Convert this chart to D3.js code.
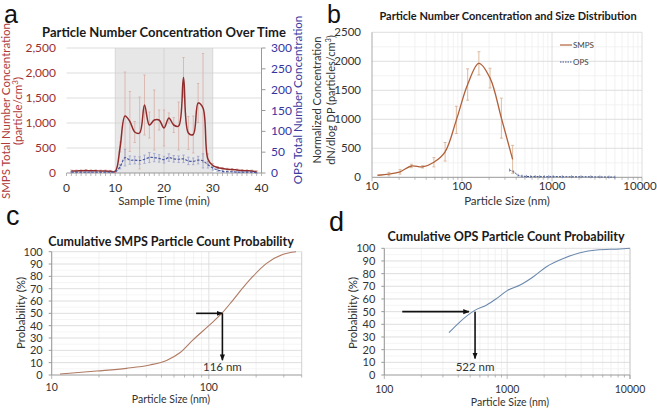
<!DOCTYPE html>
<html><head><meta charset="utf-8">
<script src="https://cdn.jsdelivr.net/npm/d3@7"></script>
<style>
body{margin:0;background:#fff}
svg{display:block}
text{font-family:Lato,'Open Sans',sans-serif}
</style>
</head><body>
<svg id="chart" width="657" height="410"></svg>
<script>
// ---------- DATA ----------
// Panel a: total number concentration over time
const sampleTime = [1,2,3,4,5,6,7,8,9,10,11,12,13,14,15,16,17,18,19,20,21,22,23,24,25,26,27,28,29,30,31,32,33,34,35,36,37,38,39];
const smpsTotal = [40,40,45,50,45,45,40,40,35,30,520,1140,1030,820,800,1360,960,1060,1060,900,1100,960,940,1910,800,770,1400,1300,280,150,110,90,75,70,60,50,45,40,25];
const smpsTotalErr = [20,20,20,20,20,20,20,20,20,20,100,880,600,210,720,600,260,600,200,360,100,150,480,400,330,370,390,1090,100,40,20,20,20,20,20,20,20,20,20];
const opsTotal = [2,2,2,2,2,2,2,2,2,3,15,37,31,31,30,33,37,37,35,32,37,34,33,34,29,28,31,29,20,12,7,4,3,3,2,2,2,2,1];
const opsTotalErr = [1,1,1,1,1,1,1,1,1,1,5,20,10,9,9,10,12,10,9,8,9,8,8,9,9,8,9,17,8,5,3,2,1,1,1,1,1,1,1];
const shadeRange = [10, 30];
const timeTicks = [0,10,20,30,40];
const smpsTotalTicks = [0,500,1000,1500,2000,2500];
const opsTotalTicks = [0,50,100,150,200,250,300];

// Panel b: size distribution
const smpsSize = [11.5,15.4,20.5,27.4,36.5,48.7,64.9,86.6,115.5,154,205,274,365];
const smpsConc = [35,55,95,195,180,260,440,990,1600,1965,1710,1020,310];
const smpsConcErr = [0,30,40,30,20,80,160,235,270,200,170,345,240];
const opsSize = [337,375,420,465,520,580,650,730,820,920,1030,1300,1650,2100,2700,3400,4300,5000];
const opsConc = [125,95,35,20,15,12,12,11,10,10,12,10,9,9,8,6,4,3];
const sizeTicksB = [10,100,1000,10000];
const concTicks = [0,500,1000,1500,2000,2500];

// Panel c: cumulative SMPS
const cumSmpsSize = [11.3,19.3,29.9,42.1,53.8,65.4,79.3,100,122,142.5,165,190,233,295,359];
const cumSmpsProb = [0.8,3.2,5.4,8.1,11.8,18,28.5,40,50.5,60.8,70.8,79.7,90.5,97.8,100];
const smpsMedianLabel = "116 nm";
const smpsArrow = {from:83, to:122, y:50, down:12, labelY:3.5};

// Panel d: cumulative OPS
const cumOpsSize = [336,413,541,682,823,1000,1274,1634,2090,2870,3920,5340,8300,10000];
const cumOpsProb = [33.4,42,50.8,55.3,60.5,66.6,71,77.6,85.5,92,96.5,98.7,99.5,100];
const opsMedianLabel = "522 nm";
const opsArrow = {from:140, to:489, x:548, y:50, down:13, labelY:3};
const probTicks = [0,10,20,30,40,50,60,70,80,90,100];

// ---------- DRAW ----------
const svg = d3.select('#chart');
const defs = svg.append('defs');
defs.append('marker').attr('id','ah').attr('viewBox','0 0 10 10').attr('refX',9).attr('refY',5)
  .attr('markerWidth',4).attr('markerHeight',4).attr('orient','auto')
  .append('path').attr('d','M0,1 L10,5 L0,9 z').attr('fill','#111');

function minorLog(lo, hi){
  const out=[];
  for(let d=Math.floor(Math.log10(lo)); d<=Math.ceil(Math.log10(hi)); d++){
    for(let k=1;k<=9;k++){const v=k*Math.pow(10,d); if(v>=lo*0.999 && v<=hi*1.001) out.push(v);}
  }
  return out;
}
function letter(x,y,t,s){svg.append('text').attr('x',x).attr('y',y).text(t)
  .style('font-family',"'Liberation Sans',Arial,sans-serif").attr('font-size',s||27).attr('fill','#111');}
function title(x,y,t,size){svg.append('text').attr('x',x).attr('y',y).attr('text-anchor','middle')
  .attr('font-weight','bold').attr('font-size',size).attr('fill','#1a1a1a').text(t);}

// ===== Panel a =====
{
  const x = d3.scaleLinear().domain([0,40]).range([66.5,261.5]);
  const y = d3.scaleLinear().domain([0,2500]).range([173,48]);
  const y2 = d3.scaleLinear().domain([0,300]).range([173,48]);
  const g = svg.append('g');
  g.append('rect').attr('x',x(shadeRange[0])).attr('y',y(2500)).attr('width',x(shadeRange[1])-x(shadeRange[0]))
    .attr('height',y(0)-y(2500)).attr('fill','#e7e7e7');
  g.selectAll('.hg').data(smpsTotalTicks.slice(1)).join('line').attr('x1',x(0)).attr('x2',x(40))
    .attr('y1',d=>y(d)).attr('y2',d=>y(d)).attr('stroke','#d4d4d4').attr('stroke-width',0.8);
  g.selectAll('.vg').data(timeTicks.slice(1,4)).join('line').attr('x1',d=>x(d)).attr('x2',d=>x(d))
    .attr('y1',y(0)).attr('y2',y(2500)).attr('stroke','#d0d0d0').attr('stroke-width',0.8);
  g.append('line').attr('x1',x(0)).attr('x2',x(40)).attr('y1',y(0)).attr('y2',y(0)).attr('stroke','#999');
  g.selectAll('.mt').data(d3.range(0,41)).join('line').attr('x1',d=>x(d)).attr('x2',d=>x(d))
    .attr('y1',y(0)).attr('y2',y(0)+3).attr('stroke','#999').attr('stroke-width',0.7);
  g.append('line').attr('x1',x(40)).attr('x2',x(40)).attr('y1',y(0)).attr('y2',y(2500)).attr('stroke','#999');
  g.selectAll('.rt').data(opsTotalTicks).join('line').attr('x1',x(40)).attr('x2',x(40)+4)
    .attr('y1',d=>y2(d)).attr('y2',d=>y2(d)).attr('stroke','#999');
  const eb = (sel, xs, vs, es, ys, col, cap) => {
    sel.append('g').selectAll('line').data(xs).join('line')
      .attr('x1',(d)=>x(d)).attr('x2',d=>x(d))
      .attr('y1',(d,i)=>ys(vs[i]+es[i])).attr('y2',(d,i)=>ys(Math.max(0,vs[i]-es[i])))
      .attr('stroke',col).attr('stroke-width',0.8);
    sel.append('g').selectAll('line').data(xs.flatMap((d,i)=>[[d,vs[i]+es[i]],[d,Math.max(0,vs[i]-es[i])]])).join('line')
      .attr('x1',d=>x(d[0])-cap).attr('x2',d=>x(d[0])+cap).attr('y1',d=>ys(d[1])).attr('y2',d=>ys(d[1]))
      .attr('stroke',col).attr('stroke-width',0.8);
  };
  eb(g, sampleTime, smpsTotal, smpsTotalErr, y, '#d8aea6', 1.2);
  eb(g, sampleTime, opsTotal, opsTotalErr, y2, '#9aa0c8', 1.2);
  const line1 = d3.line().x((d,i)=>x(sampleTime[i])).y(d=>y(d)).curve(d3.curveCatmullRom.alpha(0.5));
  g.append('path').attr('d',line1(smpsTotal)).attr('fill','none').attr('stroke','#922b2b').attr('stroke-width',1.5);
  const line2 = d3.line().x((d,i)=>x(sampleTime[i])).y(d=>y2(d)).curve(d3.curveCatmullRom.alpha(0.5));
  g.append('path').attr('d',line2(opsTotal)).attr('fill','none').attr('stroke','#4a5aa0').attr('stroke-width',1.2)
    .attr('stroke-dasharray','2.5,1.5');
  g.selectAll('.yl').data(smpsTotalTicks).join('text').attr('x',56).attr('y',d=>y(d)+4).attr('text-anchor','end')
    .attr('font-size',12).attr('fill','#9b2f2f').text(d3.format(','));
  g.selectAll('.yr').data(opsTotalTicks).join('text').attr('x',271).attr('y',d=>y2(d)+4)
    .attr('font-size',12).attr('fill','#3535a0').text(d=>d);
  g.selectAll('.xl').data(timeTicks).join('text').attr('x',d=>x(d)).attr('y',192).attr('text-anchor','middle')
    .attr('font-size',12).attr('fill','#333').text(d=>d);
  g.append('text').attr('x',164).attr('y',205).attr('text-anchor','middle').attr('font-size',11.5).attr('fill','#333').text('Sample Time (min)');
  const yl = g.append('text').attr('transform','translate(10,111) rotate(-90)').attr('text-anchor','middle')
    .attr('font-size',11.5).attr('fill','#b03a3a');
  yl.append('tspan').attr('x',0).attr('dy',0).text('SMPS Total Number Concentration');
  const t2 = yl.append('tspan').attr('x',0).attr('dy',12).text('(particle/cm');
  t2.append('tspan').attr('font-size',8).attr('dy',-4).text('3');
  t2.append('tspan').attr('dy',4).text(')');
  g.append('text').attr('transform','translate(302,100) rotate(-90)').attr('text-anchor','middle')
    .attr('font-size',11.5).attr('fill','#3a3aa0').text('OPS Total Number Concentration');
  title(164,37,'Particle Number Concentration Over Time',13);
  letter(4,23,'a',25);
}

// ===== Panel b =====
{
  const x = d3.scaleLog().domain([10,10000]).range([372,642]);
  const y = d3.scaleLinear().domain([0,2500]).range([177.3,32.3]);
  const g = svg.append('g');
  const minors = minorLog(10,10000).filter(v=>!sizeTicksB.includes(v));
  g.selectAll('.mg').data(minors).join('line').attr('x1',d=>x(d)).attr('x2',d=>x(d)).attr('y1',y(0)).attr('y2',y(2500))
    .attr('stroke','#ececec').attr('stroke-width',0.7);
  g.selectAll('.mg2').data(d3.range(250,2500,500)).join('line').attr('x1',x(10)).attr('x2',x(10000)).attr('y1',d=>y(d)).attr('y2',d=>y(d))
    .attr('stroke','#ededed').attr('stroke-width',0.7);
  g.selectAll('.hg').data(concTicks.slice(1)).join('line').attr('x1',x(10)).attr('x2',x(10000)).attr('y1',d=>y(d)).attr('y2',d=>y(d))
    .attr('stroke','#d6d6d6').attr('stroke-width',0.8);
  g.selectAll('.vg').data(sizeTicksB.slice(1)).join('line').attr('x1',d=>x(d)).attr('x2',d=>x(d)).attr('y1',y(0)).attr('y2',y(2500))
    .attr('stroke','#d6d6d6').attr('stroke-width',0.8);
  g.append('line').attr('x1',x(10)).attr('x2',x(10)).attr('y1',y(0)).attr('y2',y(2500)).attr('stroke','#aaa');
  g.append('line').attr('x1',x(10)).attr('x2',x(10000)).attr('y1',y(0)).attr('y2',y(0)).attr('stroke','#999');
  g.selectAll('.mt').data(minorLog(10,10000)).join('line').attr('x1',d=>x(d)).attr('x2',d=>x(d))
    .attr('y1',y(0)).attr('y2',d=>y(0)+(sizeTicksB.includes(d)?4:2.5)).attr('stroke','#999').attr('stroke-width',0.7);
  const idx = smpsSize.map((d,i)=>i).filter(i=>smpsConcErr[i]>0);
  g.selectAll('.eb').data(idx).join('line').attr('x1',i=>x(smpsSize[i])).attr('x2',i=>x(smpsSize[i]))
    .attr('y1',i=>y(smpsConc[i]+smpsConcErr[i])).attr('y2',i=>y(Math.max(0,smpsConc[i]-smpsConcErr[i])))
    .attr('stroke','#e2c2a9').attr('stroke-width',1.1);
  g.selectAll('.ec').data(idx.flatMap(i=>[[i,1],[i,-1]])).join('line').attr('x1',d=>x(smpsSize[d[0]])-1.5).attr('x2',d=>x(smpsSize[d[0]])+1.5)
    .attr('y1',d=>y(Math.max(0,smpsConc[d[0]]+d[1]*smpsConcErr[d[0]]))).attr('y2',d=>y(Math.max(0,smpsConc[d[0]]+d[1]*smpsConcErr[d[0]])))
    .attr('stroke','#d8b49a').attr('stroke-width',0.9);
  const ln = d3.line().x(d=>x(d[0])).y(d=>y(d[1])).curve(d3.curveCatmullRom.alpha(0.5));
  g.append('path').attr('d',ln(smpsSize.map((d,i)=>[d,smpsConc[i]]))).attr('fill','none').attr('stroke','#b0613a').attr('stroke-width',1.3);
  g.append('path').attr('d',ln(opsSize.map((d,i)=>[d,opsConc[i]]))).attr('fill','none').attr('stroke','#3d4d85').attr('stroke-width',1)
    .attr('stroke-dasharray','2,1.2');
  g.selectAll('.ot').data(opsSize).join('line').attr('x1',d=>x(d)).attr('x2',d=>x(d))
    .attr('y1',(d,i)=>y(opsConc[i])-1.5).attr('y2',(d,i)=>y(opsConc[i])+1.5).attr('stroke','#6070a0').attr('stroke-width',0.7);
  g.selectAll('.yl').data(concTicks).join('text').attr('x',361).attr('y',d=>y(d)+4).attr('text-anchor','end')
    .attr('font-size',11.5).attr('fill','#333').text(d=>d);
  g.selectAll('.xl').data(sizeTicksB).join('text').attr('x',d=>Math.min(x(d),640)).attr('y',190).attr('text-anchor','middle')
    .attr('font-size',11.5).attr('fill','#333').text(d=>d);
  g.append('text').attr('x',507).attr('y',205).attr('text-anchor','middle').attr('font-size',11.5).attr('fill','#333').text('Particle Size (nm)');
  const yl = g.append('text').attr('transform','translate(321,100) rotate(-90)').attr('text-anchor','middle')
    .attr('font-size',11).attr('fill','#333');
  yl.append('tspan').attr('x',0).attr('dy',0).text('Normalized Concentration');
  const t2 = yl.append('tspan').attr('x',0).attr('dy',14).text('dN/dlog DP  (particles/cm');
  t2.append('tspan').attr('font-size',7.5).attr('dy',-4).text('3');
  t2.append('tspan').attr('dy',4).text(')');
  const lg = g.append('g');
  lg.append('line').attr('x1',560).attr('x2',572).attr('y1',45).attr('y2',45).attr('stroke','#b0613a').attr('stroke-width',1.2);
  lg.append('text').attr('x',573).attr('y',48).attr('font-size',8).attr('fill','#444').text('SMPS');
  lg.append('line').attr('x1',560).attr('x2',572).attr('y1',62).attr('y2',62).attr('stroke','#3d4d85').attr('stroke-width',1).attr('stroke-dasharray','1.5,1');
  lg.append('text').attr('x',573).attr('y',65).attr('font-size',8).attr('fill','#444').text('OPS');
  title(508,20,'Particle Number Concentration and Size Distribution',11);
  letter(327,23,'b',25);
}

// ===== cumulative panels =====
function cumPanel(opt){
  const x = d3.scaleLog().domain(opt.xdom).range(opt.xr);
  const y = d3.scaleLinear().domain([0,100]).range(opt.yr);
  const g = svg.append('g');
  const minors = minorLog(opt.xdom[0],opt.xdom[1]);
  g.selectAll('.mg').data(minors).join('line').attr('x1',d=>x(d)).attr('x2',d=>x(d)).attr('y1',y(0)).attr('y2',y(100))
    .attr('stroke',d=>opt.majors.includes(d)?'#d4d4d4':'#ececec').attr('stroke-width',0.7);
  g.selectAll('.mh').data(d3.range(5,100,10)).join('line').attr('x1',x.range()[0]).attr('x2',x.range()[1]).attr('y1',d=>y(d)).attr('y2',d=>y(d))
    .attr('stroke','#efefef').attr('stroke-width',0.6);
  g.selectAll('.hg').data(probTicks.slice(1)).join('line').attr('x1',x.range()[0]).attr('x2',x.range()[1]).attr('y1',d=>y(d)).attr('y2',d=>y(d))
    .attr('stroke','#d6d6d6').attr('stroke-width',0.8);
  g.append('line').attr('x1',x.range()[1]).attr('x2',x.range()[1]).attr('y1',y(0)).attr('y2',y(100)).attr('stroke','#d0d0d0');
  g.append('line').attr('x1',x.range()[0]).attr('x2',x.range()[0]).attr('y1',y(0)).attr('y2',y(100)).attr('stroke','#999');
  g.append('line').attr('x1',x.range()[0]).attr('x2',x.range()[1]).attr('y1',y(0)).attr('y2',y(0)).attr('stroke','#999');
  g.selectAll('.yt').data(probTicks).join('line').attr('x1',x.range()[0]-3).attr('x2',x.range()[0]).attr('y1',d=>y(d)).attr('y2',d=>y(d)).attr('stroke','#999');
  g.selectAll('.xt').data(minors.concat([opt.xdom[1]])).join('line').attr('x1',d=>x(d)).attr('x2',d=>x(d)).attr('y1',y(0))
    .attr('y2',d=>y(0)+(opt.majors.includes(d)?4:2.5)).attr('stroke','#999').attr('stroke-width',0.7);
  const ln = d3.line().x(d=>x(d[0])).y(d=>y(d[1])).curve(d3.curveMonotoneX);
  g.append('path').attr('d',ln(opt.sx.map((d,i)=>[d,opt.sy[i]]))).attr('fill','none').attr('stroke',opt.color).attr('stroke-width',1.1);
  g.selectAll('.yl').data(probTicks).join('text').attr('x',x.range()[0]-9).attr('y',d=>y(d)+4).attr('text-anchor','end')
    .attr('font-size',11).attr('fill','#333').text(d=>d);
  g.selectAll('.xl').data(opt.majors).join('text').attr('x',d=>x(d)).attr('y',opt.xlabY).attr('text-anchor','middle')
    .attr('font-size',10.5).attr('fill','#333').text(d=>d);
  g.append('text').attr('x',opt.axCx).attr('y',opt.axY).attr('text-anchor','middle').attr('font-size',10.5).attr('fill','#333').text('Particle Size (nm)');
  g.append('text').attr('transform',`translate(${opt.ylx},313) rotate(-90)`).attr('text-anchor','middle')
    .attr('font-size',11.5).attr('fill','#333').text(opt.ylab);
  const a = opt.arrow;
  const ax = a.x || a.to;
  g.append('line').attr('x1',x(a.from)).attr('x2',x(a.to)).attr('y1',y(a.y)).attr('y2',y(a.y))
    .attr('stroke','#111').attr('stroke-width',1.6).attr('marker-end','url(#ah)');
  g.append('line').attr('x1',x(ax)).attr('x2',x(ax)).attr('y1',y(a.y)).attr('y2',y(a.down))
    .attr('stroke','#111').attr('stroke-width',1.6).attr('marker-end','url(#ah)');
  g.append('text').attr('x',x(ax)).attr('y',y(a.labelY)).attr('text-anchor','middle').attr('font-size',11.5).attr('fill','#333').text(opt.mlabel);
  title(opt.tx,opt.ty,opt.title,12.5);
}
cumPanel({xdom:[10,390], xr:[51.7,301.7], yr:[375,251.7], majors:[10,100], sx:cumSmpsSize, sy:cumSmpsProb,
  color:'#b07a63', xlabY:391, axCx:171, axY:403, ylx:25, ylab:'Probability  (%)', arrow:smpsArrow, mlabel:smpsMedianLabel,
  title:'Cumulative SMPS Particle Count Probability', tx:171, ty:246});
cumPanel({xdom:[100,10000], xr:[384.3,630], yr:[375,248.3], majors:[100,1000,10000], sx:cumOpsSize, sy:cumOpsProb,
  color:'#6a89ad', xlabY:393, axCx:510, axY:406, ylx:357, ylab:'Probability (%)', arrow:opsArrow, mlabel:opsMedianLabel,
  title:'Cumulative OPS Particle Count Probability', tx:506, ty:241});
letter(6,225,'c');
letter(329,231,'d');
</script>
</body></html>
